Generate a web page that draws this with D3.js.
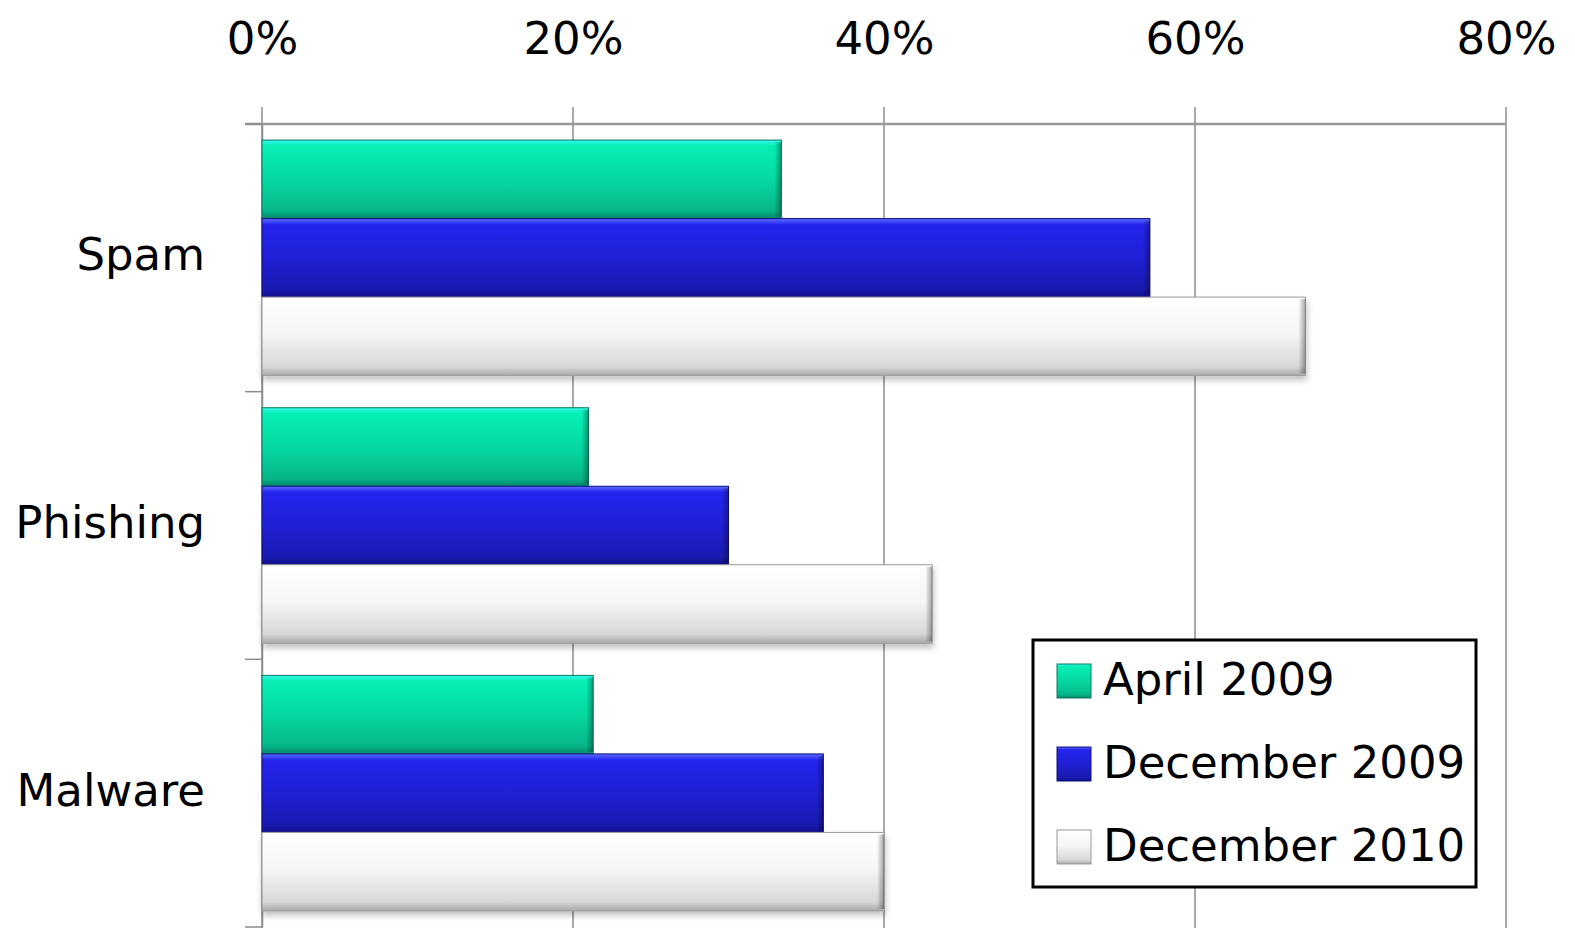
<!DOCTYPE html>
<html>
<head>
<meta charset="utf-8">
<script src="https://cdn.jsdelivr.net/npm/d3@7"></script>
<style>
  body { margin: 0; background: #fff; }
  text { font-family: "DejaVu Sans", sans-serif; fill: #000; }
</style>
</head>
<body>
<div id="chart"></div>
<script>
let width = 1575;
let height = 937;

const categories = ["Spam", "Phishing", "Malware"];
const seriesNames = ["April 2009", "December 2009", "December 2010"];
const april2009 = [0.334, 0.210, 0.213];
const december2009 = [0.571, 0.300, 0.361];
const december2010 = [0.671, 0.431, 0.400];
const tickValues = [0, 0.2, 0.4, 0.6, 0.8];

const seriesValues = [april2009, december2009, december2010];
const gradients = [
  [["0", "#3af6ee"], ["0.07", "#06f0b4"], ["0.5", "#05d8a0"], ["0.9", "#06b688"], ["1", "#04866a"]],
  [["0", "#5a6cff"], ["0.08", "#2424ee"], ["0.5", "#2020d6"], ["0.9", "#1a1ab0"], ["1", "#10108a"]],
  [["0", "#ffffff"], ["0.45", "#f6f6f6"], ["0.88", "#d8d8d8"], ["1", "#a8a8a8"]]
];
const strokes = ["#057a60", "#10107a", "#9a9a9a"];

let svg = d3.select("#chart")
            .append("svg")
            .attr("width", width)
            .attr("height", height);

let defs = svg.append("defs");
gradients.forEach((stops, i) => {
  let g = defs.append("linearGradient")
    .attr("id", "grad" + i)
    .attr("x1", 0).attr("y1", 0).attr("x2", 0).attr("y2", 1);
  stops.forEach(s => g.append("stop").attr("offset", s[0]).attr("stop-color", s[1]));
});
// dark rim on the right end of each bar
let rim = defs.append("linearGradient").attr("id", "rim")
  .attr("x1", 0).attr("y1", 0).attr("x2", 1).attr("y2", 0);
rim.append("stop").attr("offset", "0").attr("stop-color", "#000").attr("stop-opacity", 0);
rim.append("stop").attr("offset", "1").attr("stop-color", "#000").attr("stop-opacity", 0.35);

let shadow = defs.append("filter").attr("id", "shadow")
  .attr("x", "-5%").attr("y", "-20%").attr("width", "110%").attr("height", "150%");
shadow.append("feDropShadow").attr("dx", 1).attr("dy", 4).attr("stdDeviation", 3)
  .attr("flood-color", "#000").attr("flood-opacity", 0.25);

let x = d3.scaleLinear().domain([0, 0.8]).range([262, 1506]);
let y = d3.scaleBand().domain(categories).range([124, 927]).paddingInner(0.12).paddingOuter(0.06);
let ySub = d3.scaleBand().domain(d3.range(seriesNames.length)).range([0, y.bandwidth()]);

// gridlines
svg.append("g")
  .selectAll("line")
  .data(tickValues)
  .join("line")
  .attr("x1", d => x(d)).attr("x2", d => x(d))
  .attr("y1", 107).attr("y2", 928)
  .attr("stroke", "#8c8c8c")
  .attr("stroke-width", 1.5);

// top axis
let xAxis = d3.axisTop(x).tickValues(tickValues).tickFormat(d3.format(".0%")).tickSize(0).tickPadding(0);
let gx = svg.append("g").attr("transform", "translate(0,54)").call(xAxis);
gx.select(".domain").remove();
gx.selectAll("text").attr("font-size", 45).attr("font-family", "DejaVu Sans").attr("fill", "#000");

svg.append("line")
  .attr("x1", 245).attr("x2", 1506)
  .attr("y1", 124).attr("y2", 124)
  .attr("stroke", "#999").attr("stroke-width", 2.5);

// left axis
let yAxis = d3.axisLeft(y).tickSize(0).tickPadding(57);
let gy = svg.append("g").attr("transform", "translate(262,0)").call(yAxis);
gy.select(".domain").attr("stroke", "#8c8c8c").attr("stroke-width", 1.5);
gy.selectAll("text").attr("font-size", 45).attr("font-family", "DejaVu Sans").attr("fill", "#000").attr("dy", "0.28em");

let catTicks = [124].concat(categories.map(c => y(c) + y.bandwidth() + y.step() * y.paddingInner() / 2));
svg.append("g").selectAll("line")
  .data(catTicks)
  .join("line")
  .attr("x1", 245).attr("x2", 262)
  .attr("y1", d => d).attr("y2", d => d)
  .attr("stroke", "#8c8c8c").attr("stroke-width", 1.5);

// bars
let groups = svg.append("g")
  .selectAll("g")
  .data(categories)
  .join("g")
  .attr("transform", d => `translate(0,${y(d)})`);

let barData = (c, ci) => seriesValues.map((vals, si) => ({ si: si, v: vals[ci] }));

groups.selectAll("rect.bar")
  .data(barData)
  .join("rect")
  .attr("class", "bar")
  .attr("x", x(0))
  .attr("y", d => ySub(d.si))
  .attr("width", d => x(d.v) - x(0))
  .attr("height", ySub.bandwidth())
  .attr("fill", d => `url(#grad${d.si})`)
  .attr("stroke", d => strokes[d.si])
  .attr("stroke-width", 1)
  .attr("filter", d => d.si === 2 ? "url(#shadow)" : null);

groups.selectAll("rect.rim")
  .data(barData)
  .join("rect")
  .attr("class", "rim")
  .attr("x", d => x(d.v) - 7)
  .attr("y", d => ySub(d.si) + 2)
  .attr("width", 7)
  .attr("height", ySub.bandwidth() - 4)
  .attr("fill", "url(#rim)");

// legend
let legend = svg.append("g").attr("transform", "translate(1033,640)");
legend.append("rect")
  .attr("width", 443).attr("height", 247)
  .attr("fill", "#fff").attr("stroke", "#000").attr("stroke-width", 3);
let items = legend.selectAll("g.item")
  .data(seriesNames)
  .join("g")
  .attr("class", "item")
  .attr("transform", (d, i) => `translate(24,${41 + i * 83})`);
items.append("rect")
  .attr("y", -17).attr("width", 34).attr("height", 34)
  .attr("fill", (d, i) => `url(#grad${i})`)
  .attr("stroke", (d, i) => strokes[i]).attr("stroke-width", 1);
items.append("text")
  .attr("x", 46)
  .attr("dy", "0.3em")
  .attr("font-size", 45)
  .text(d => d);
</script>
</body>
</html>
